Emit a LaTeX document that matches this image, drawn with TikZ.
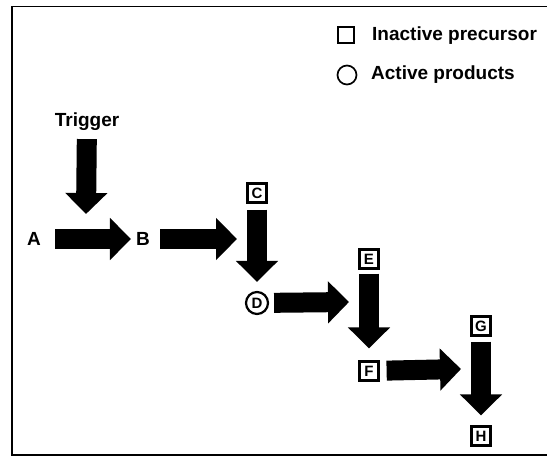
\documentclass[tikz,border=0pt]{standalone}
\usepackage{fontspec}
\setmainfont{Liberation Sans}
\usetikzlibrary{arrows.meta}
\tikzset{
  lbl/.style={inner sep=0pt, font=\bfseries\fontsize{19}{21}\selectfont},
  boxed/.style={draw, line width=2.2pt, minimum size=19pt, inner sep=0pt, font=\bfseries\fontsize{15}{16}\selectfont},
  roundbox/.style={draw, circle, line width=2.2pt, minimum size=22pt, inner sep=0pt, font=\bfseries\fontsize{15}{16}\selectfont},
  bigarrow/.style={line width=20pt, -{Triangle[length=21pt, width=41pt]}},
}
\begin{document}
\begin{tikzpicture}[x=1pt, y=-1pt]
\useasboundingbox (0,0) rectangle (547,463);
\fill[white] (0,0) rectangle (547,463);
% frame
\draw[line width=1.8pt] (549,6.5) -- (12,6.5) -- (12,455) -- (549,455);
% legend
\node[draw, line width=1.7pt, minimum size=16.5pt, inner sep=0pt] (sq) at (346,35) {};
\node[lbl, anchor=west] (inact) at (372,36) {Inactive precursor};
\node[draw, circle, line width=1.7pt, minimum size=19pt, inner sep=0pt] (ci) at (347,75) {};
\node[lbl, anchor=west] (act) at (371,75) {Active products};
% nodes
\node[lbl] (trig) at (87,122) {Trigger};
\coordinate (t1) at (86,214);
\node[lbl] (A) at (34,239) {A};
\node[lbl] (B) at (143,239) {B};
\coordinate (bc) at (237,239);
\node[boxed] (C) at (257,193) {C};
\node[roundbox] (D) at (257,303) {D};
\coordinate (de) at (349,302);
\node[boxed] (E) at (369,259) {E};
\node[boxed] (F) at (369,371) {F};
\coordinate (fg) at (461,369);
\node[boxed] (G) at (481,326) {G};
\node[boxed] (H) at (481,436) {H};
% arrows
\draw[bigarrow, shorten <=8pt] (trig) -- (t1);
\draw[bigarrow, shorten <=14pt, shorten >=5pt] (A) -- (B);
\draw[bigarrow, shorten <=10pt] (B) -- (bc);
\draw[bigarrow, shorten <=6pt, shorten >=9pt] (C) -- (D);
\draw[bigarrow, shorten <=4pt, shorten >=12pt] (E) -- (F);
\draw[bigarrow, shorten <=5pt] (D) -- (de);
\draw[bigarrow, shorten <=7pt] (F) -- (fg);
\draw[bigarrow, shorten <=5pt, shorten >=10pt] (G) -- (H);
\end{tikzpicture}
\end{document}
